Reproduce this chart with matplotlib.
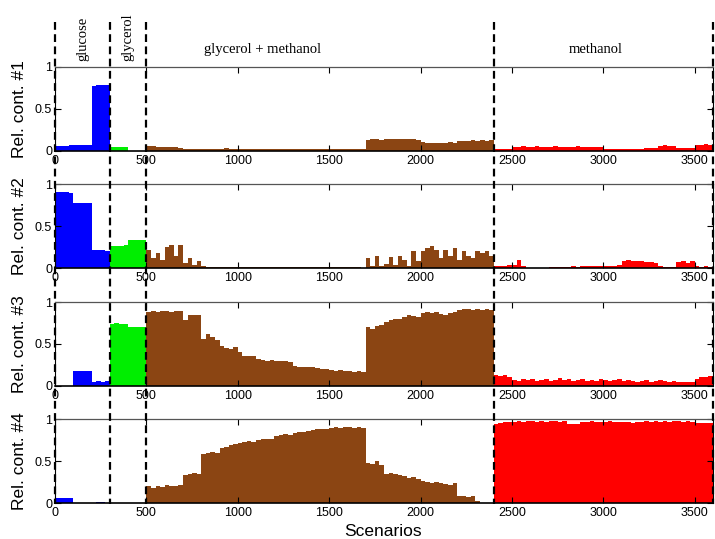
import numpy as np
import matplotlib
matplotlib.use("Agg")
import matplotlib.pyplot as plt
from matplotlib import font_manager as fm
from matplotlib.lines import Line2D
from matplotlib.transforms import blended_transform_factory


def pick(*names):
    for n in names:
        try:
            fm.findfont(fm.FontProperties(family=n), fallback_to_default=False)
            return n
        except Exception:
            pass
    return "DejaVu Sans"


SANS = pick("Liberation Sans", "Arial", "DejaVu Sans")
NARROW = pick("Liberation Sans Narrow", "Liberation Sans", "DejaVu Sans")
SERIF = pick("Liberation Serif", "Times New Roman", "DejaVu Serif")

# ---------------- data ----------------
BIN = 25  # scenarios per bar
region_names = ["glucose", "glycerol", "glycerol + methanol", "methanol"]
region_edges = [0, 300, 500, 2400, 3600]
region_colors = ["#0000ff", "#00ee00", "#8b4513", "#ff0000"]
ylabels = ["Rel. cont. #1", "Rel. cont. #2", "Rel. cont. #3", "Rel. cont. #4"]
xticks = [0, 500, 1000, 1500, 2000, 2500, 3000, 3500]
yticks = [0, 0.5, 1]
ytick_labels = ["0", "0.5", "1"]

# contribution #1
rc1_glucose = [0.055, 0.055, 0.055, 0.06, 0.065, 0.065, 0.065, 0.07,
               0.775, 0.78, 0.785, 0.78]
rc1_glycerol = [0.045, 0.045, 0.045, 0.045, 0.0, 0.0, 0.0, 0.0]
rc1_glymeth = [0.05, 0.05, 0.045, 0.04, 0.04, 0.04, 0.04, 0.035,
               0.02, 0.015, 0.015, 0.02, 0.015, 0.015, 0.02, 0.015, 0.015, 0.025,
               0.015, 0.015, 0.02, 0.015, 0.015, 0.015, 0.02, 0.015, 0.015, 0.02,
               0.015, 0.02, 0.015, 0.015, 0.02, 0.015, 0.015, 0.02, 0.015, 0.015,
               0.02, 0.015, 0.015, 0.015, 0.02, 0.015, 0.015, 0.02, 0.015, 0.015,
               0.13, 0.135, 0.135, 0.13, 0.135, 0.14, 0.135, 0.14, 0.14, 0.135, 0.135, 0.13,
               0.10, 0.095, 0.095, 0.09, 0.095, 0.095, 0.10, 0.095,
               0.11, 0.115, 0.115, 0.12, 0.115, 0.12, 0.115, 0.12]
rc1_methanol = [0.015, 0.015, 0.02, 0.02,
                0.045, 0.045, 0.05, 0.045, 0.045, 0.05, 0.045, 0.045,
                0.045, 0.05, 0.045, 0.045, 0.045, 0.045, 0.05, 0.045,
                0.04, 0.04, 0.045, 0.04,
                0.02, 0.015, 0.02, 0.015, 0.015, 0.02, 0.015, 0.015, 0.02, 0.025, 0.03, 0.035,
                0.055, 0.06, 0.055, 0.05,
                0.03, 0.03, 0.035, 0.03,
                0.07, 0.07, 0.075, 0.07]

# contribution #2
rc2_glucose = [0.91, 0.91, 0.91, 0.90, 0.78, 0.78, 0.78, 0.78,
               0.22, 0.22, 0.22, 0.21]
rc2_glycerol = [0.26, 0.265, 0.26, 0.27, 0.33, 0.335, 0.33, 0.33]
rc2_glymeth = [0.22, 0.12, 0.18, 0.10, 0.25, 0.28, 0.15, 0.28,
               0.06, 0.12, 0.04, 0.08,
               0.02, 0.01, 0.015, 0.01, 0.01, 0.01, 0.015, 0.01, 0.01,
               0.01, 0.01, 0.01, 0.015, 0.01, 0.01, 0.01, 0.01, 0.01,
               0.01, 0.01, 0.015, 0.01, 0.01, 0.01, 0.01, 0.01, 0.01,
               0.01, 0.01, 0.01, 0.01, 0.01, 0.01, 0.01, 0.01, 0.005,
               0.12, 0.03, 0.15, 0.02,
               0.05, 0.13, 0.04, 0.14,
               0.10, 0.03, 0.20, 0.08,
               0.20, 0.24, 0.26, 0.22,
               0.12, 0.22, 0.15, 0.24,
               0.10, 0.20, 0.15, 0.12,
               0.20, 0.18, 0.20, 0.15]
rc2_methanol = [0.02, 0.02, 0.03, 0.04,
                0.04, 0.10, 0.02, 0.0,
                0.0, 0.0, 0.0, 0.0,
                0.01, 0.015, 0.01, 0.015,
                0.01, 0.02, 0.015, 0.02,
                0.02, 0.025, 0.02, 0.025,
                0.025, 0.03, 0.03, 0.035,
                0.09, 0.095, 0.09, 0.09,
                0.08, 0.075, 0.07, 0.065,
                0.02, 0.01, 0.01, 0.01,
                0.07, 0.08, 0.06, 0.08,
                0.02, 0.015, 0.02, 0.015]

# contribution #3
rc3_glucose = [0.0, 0.0, 0.0, 0.0, 0.18, 0.18, 0.18, 0.18,
               0.05, 0.06, 0.05, 0.06]
rc3_glycerol = [0.74, 0.745, 0.74, 0.735, 0.70, 0.70, 0.70, 0.70]
rc3_glymeth = [0.88, 0.89, 0.88, 0.89, 0.89, 0.88, 0.89, 0.89,
               0.78, 0.84, 0.85, 0.84,
               0.56, 0.62, 0.58, 0.55,
               0.47, 0.45, 0.44, 0.46,
               0.40, 0.36, 0.36, 0.35,
               0.32, 0.31, 0.30, 0.31,
               0.30, 0.29, 0.29, 0.28,
               0.24, 0.23, 0.23, 0.22,
               0.22, 0.21, 0.20, 0.20,
               0.19, 0.18, 0.19, 0.18,
               0.18, 0.17, 0.18, 0.17,
               0.70, 0.68, 0.71, 0.72,
               0.76, 0.79, 0.80, 0.80,
               0.82, 0.84, 0.83, 0.82,
               0.87, 0.88, 0.87, 0.88,
               0.86, 0.85, 0.87, 0.88,
               0.91, 0.92, 0.92, 0.91, 0.92, 0.91, 0.92, 0.91]
rc3_methanol = [0.13, 0.12, 0.13, 0.11,
                0.07, 0.06, 0.08, 0.07,
                0.08, 0.06, 0.07, 0.08, 0.06, 0.07, 0.09, 0.07,
                0.08, 0.06, 0.07, 0.08, 0.06, 0.07, 0.06, 0.08,
                0.07, 0.06, 0.07, 0.08, 0.06, 0.07, 0.06, 0.05,
                0.06, 0.07, 0.05, 0.06, 0.07, 0.06, 0.05, 0.06,
                0.04, 0.05, 0.04, 0.05,
                0.08, 0.10, 0.11, 0.12]

# contribution #4
rc4_glucose = [0.06, 0.06, 0.06, 0.06, 0.0, 0.0, 0.0, 0.0,
               0.0, 0.01, 0.01, 0.0]
rc4_glycerol = [0.0, 0.0, 0.0, 0.0, 0.0, 0.0, 0.0, 0.0]
rc4_glymeth = [0.20, 0.18, 0.21, 0.19, 0.22, 0.20, 0.21, 0.22,
               0.34, 0.35, 0.36, 0.35,
               0.58, 0.60, 0.61, 0.60,
               0.66, 0.67, 0.69, 0.70,
               0.72, 0.73, 0.74, 0.73,
               0.75, 0.76, 0.77, 0.77,
               0.80, 0.81, 0.82, 0.81,
               0.84, 0.85, 0.85, 0.86,
               0.87, 0.88, 0.88, 0.89,
               0.90, 0.91, 0.90, 0.91,
               0.91, 0.90, 0.91, 0.90,
               0.48, 0.47, 0.50, 0.45,
               0.35, 0.36, 0.35, 0.34,
               0.32, 0.30, 0.31, 0.29,
               0.26, 0.25, 0.24, 0.25,
               0.24, 0.23, 0.22, 0.24,
               0.09, 0.08, 0.07, 0.08,
               0.02, 0.0, 0.0, 0.0]
rc4_methanol = [0.945, 0.955, 0.965, 0.97,
                0.97, 0.975, 0.97, 0.975, 0.975, 0.97, 0.975, 0.97, 0.975, 0.975, 0.97, 0.975,
                0.94, 0.945, 0.94, 0.97, 0.97, 0.975, 0.97, 0.965, 0.97, 0.975, 0.97, 0.965,
                0.965, 0.97, 0.96, 0.965, 0.97, 0.975, 0.97, 0.975, 0.97, 0.975, 0.97, 0.975,
                0.975, 0.97, 0.975, 0.97, 0.95, 0.95, 0.955, 0.95]

rows = [
    rc1_glucose + rc1_glycerol + rc1_glymeth + rc1_methanol,
    rc2_glucose + rc2_glycerol + rc2_glymeth + rc2_methanol,
    rc3_glucose + rc3_glycerol + rc3_glymeth + rc3_methanol,
    rc4_glucose + rc4_glycerol + rc4_glymeth + rc4_methanol,
]

# ---------------- figure ----------------
W, H = 715, 539
fig = plt.figure(figsize=(W / 100, H / 100), dpi=100)

ax_left = 55 / W
ax_w = 658 / W
row_tops_px = [66.7, 184.3, 302.0, 419.3]
row_h_px = 83.8

axes = []
for i, vals in enumerate(rows):
    bottom = 1 - (row_tops_px[i] + row_h_px) / H
    ax = fig.add_axes([ax_left, bottom, ax_w, row_h_px / H])
    axes.append(ax)
    vals = np.asarray(vals, dtype=float)
    x = np.arange(len(vals)) * BIN
    reg = np.searchsorted(region_edges, x, side="right") - 1
    cols = [region_colors[r] for r in reg]
    ax.bar(x, vals, width=BIN, align="edge", color=cols, linewidth=0)
    ax.set_xlim(region_edges[0], region_edges[-1])
    ax.set_ylim(0, 1)
    ax.set_xticks(xticks)
    ax.set_xticklabels([str(t) for t in xticks])
    ax.set_yticks(yticks)
    ax.set_yticklabels(ytick_labels)
    ax.tick_params(direction="in", top=True, right=True, length=4, width=0.8,
                   labelsize=9, pad=3)
    ax.tick_params(axis="y", pad=2)
    for lab in ax.get_xticklabels() + ax.get_yticklabels():
        lab.set_fontfamily(NARROW)
    ax.spines["top"].set_color("#555555")
    ax.spines["top"].set_linewidth(0.9)
    ax.spines["bottom"].set_linewidth(1.2)
    fig.text(20 / W, 1 - (row_tops_px[i] + row_h_px / 2) / H, ylabels[i],
             rotation=90, ha="center", va="center", fontsize=12.5,
             family=SANS)

# region labels
top_ax = axes[0]
lab_x = [150, 400, 1135, 2960]
for k, name in enumerate(region_names):
    if k < 2:
        top_ax.text(lab_x[k], 1.07, name, rotation=90, ha="center", va="bottom",
                    fontsize=10.5, family=SERIF, transform=top_ax.get_xaxis_transform())
    else:
        top_ax.text(lab_x[k], 1.2, name, ha="center", va="center",
                    fontsize=10.5, family=SERIF, transform=top_ax.get_xaxis_transform())

# dashed separators across the whole figure
tr = blended_transform_factory(axes[-1].transData, fig.transFigure)
for e in region_edges:
    fig.add_artist(Line2D([e, e], [1 - 22 / H, 1 - 504 / H], transform=tr,
                          color="black", linewidth=1.6, linestyle=(0, (3.5, 2)),
                          zorder=5))

fig.text(383 / W, 1 - 532 / H, "Scenarios", ha="center", va="center",
         fontsize=12.5, family=SANS)

fig.savefig("out.png", dpi=100)
